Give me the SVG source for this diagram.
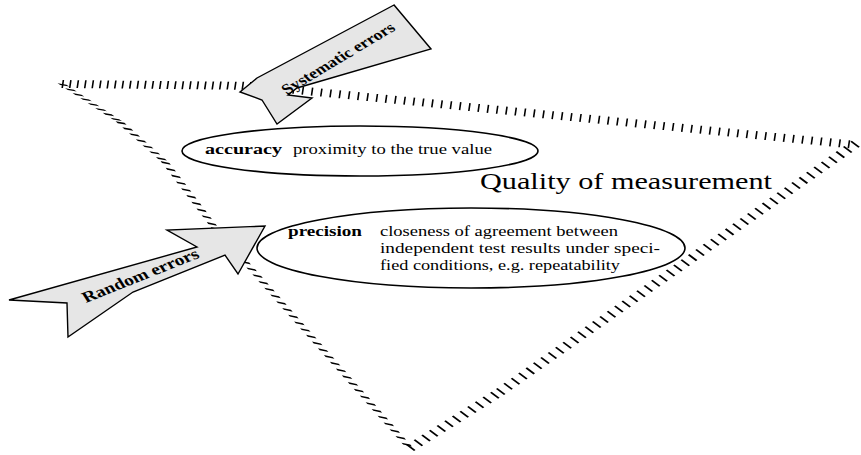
<svg xmlns="http://www.w3.org/2000/svg" width="861" height="455" viewBox="0 0 861 455">
<style>
.tk{stroke:#000;fill:none}
.ell{fill:#fff;stroke:#000;stroke-width:1.6}
.arr{fill:#e6e6e6;stroke:#000;stroke-width:1.4;stroke-linejoin:miter}
.t{font-family:"Liberation Serif","Times New Roman",serif;fill:#000}
.b{font-weight:bold}
</style>
<g id="hatch-border" class="tk">
<line x1="0" y1="0" x2="203" y2="0" transform="matrix(0.99995 0.00985 -0.147 0.989 62 84)" stroke-width="8" stroke-dasharray="1.6 5.9"/>
<line x1="0" y1="0" x2="594.8" y2="0" transform="matrix(0.99524 0.09751 -0.147 0.989 265 87)" stroke-width="8" stroke-dasharray="1.6 7.7"/>
<line x1="0" y1="0" x2="106" y2="0" transform="matrix(0.8491 -0.5283 0.8 0.6 410 448)" stroke-width="10" stroke-dasharray="1.8 7.2"/>
<line x1="0" y1="0" x2="435.3" y2="0" transform="matrix(0.8202 -0.5721 0.8 0.6 500 392)" stroke-width="10" stroke-dasharray="1.8 7.2"/>
<line x1="0" y1="0" x2="69.3" y2="0" transform="matrix(0.8365 0.548 0.985 0.17 62 84)" stroke-width="9" stroke-dasharray="3.3 5.7"/>
<line x1="0" y1="0" x2="60.2" y2="0" transform="matrix(0.7474 0.6643 0.985 0.17 120 122)" stroke-width="9" stroke-dasharray="2.9 6.1"/>
<line x1="0" y1="0" x2="82.8" y2="0" transform="matrix(0.6039 0.7971 0.978 0.208 165 162)" stroke-width="9" stroke-dasharray="2.3 6.2"/>
<line x1="0" y1="0" x2="291.2" y2="0" transform="matrix(0.6628 0.7486 0.978 0.208 215 228)" stroke-width="9" stroke-dasharray="2.5 6.5"/>
</g>
<g id="title">
<text class="t" x="480" y="189" font-size="24" textLength="292" lengthAdjust="spacingAndGlyphs">Quality of measurement</text>
</g>
<g id="accuracy">
<ellipse class="ell" cx="360" cy="151" rx="178" ry="25"/>
<text class="t b" x="205" y="154" font-size="15" textLength="77" lengthAdjust="spacingAndGlyphs">accuracy</text>
<text class="t" x="293" y="154" font-size="15" textLength="199" lengthAdjust="spacingAndGlyphs">proximity to the true value</text>
</g>
<g id="precision">
<ellipse class="ell" cx="471" cy="248" rx="214" ry="40"/>
<text class="t b" x="288" y="236" font-size="15" textLength="74" lengthAdjust="spacingAndGlyphs">precision</text>
<text class="t" x="380" y="236" font-size="15" textLength="238" lengthAdjust="spacingAndGlyphs">closeness of agreement between</text>
<text class="t" x="380" y="253" font-size="15" textLength="280" lengthAdjust="spacingAndGlyphs">independent test results under speci-</text>
<text class="t" x="380" y="270" font-size="15" textLength="240" lengthAdjust="spacingAndGlyphs">fied conditions, e.g. repeatability</text>
</g>
<g id="connectors">
<g id="systematic-errors">
<path class="arr" d="M394,5 L257,78 L240,92 L262,100 L277,124 L312,98 L288,95 L297,88 L431,49 Z"/>
<text class="t b" font-size="14.5" transform="translate(287,95) scale(1.26,1) rotate(-37)">Systematic errors</text>
</g>
<g id="random-errors">
<path class="arr" d="M9,300 L197,247 L167,230 L265,226 L238,274 L225,255 L133,292 L68,337 L67,303 Z"/>
<text class="t b" font-size="15.5" transform="translate(86,303) scale(1.26,1) rotate(-26.7)">Random errors</text>
</g>
</g>
</svg>
